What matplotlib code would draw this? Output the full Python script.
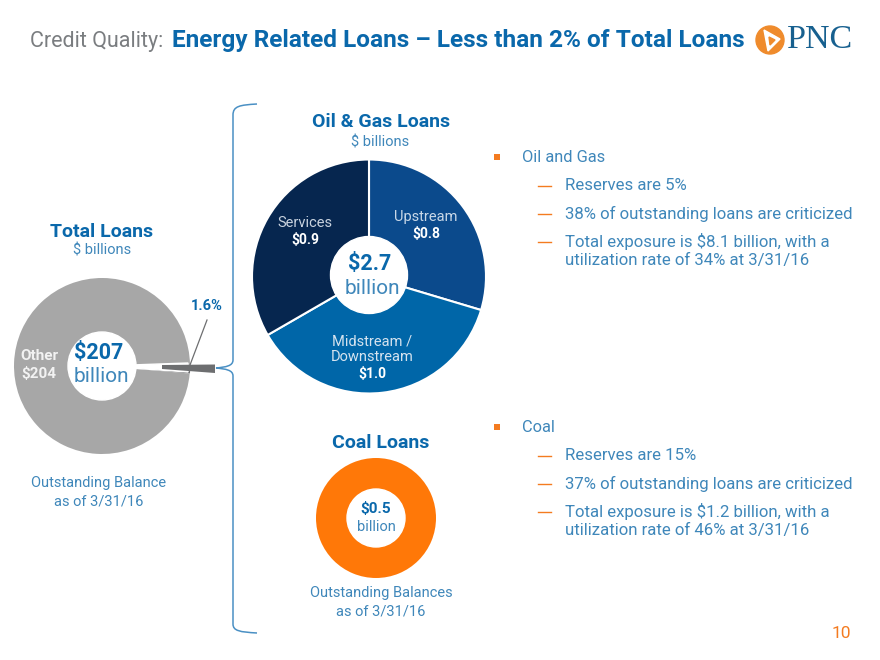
import matplotlib
matplotlib.use("Agg")
import matplotlib.pyplot as plt
from matplotlib.patches import Circle, Polygon, PathPatch
from matplotlib.path import Path

plt.rcParams['font.family'] = ['Roboto', 'DejaVu Sans']

# data
total_labels = ["Energy", "Other"]
total_values = [3.3, 203.7]
oil_labels = ["Upstream", "Midstream /\nDownstream", "Services"]
oil_values = [0.8, 1.0, 0.9]
coal_values = [0.5]
oil_bullets = ["Reserves are 5%", "38% of outstanding loans are criticized",
               "Total exposure is $8.1 billion, with a\nutilization rate of 34% at 3/31/16"]
coal_bullets = ["Reserves are 15%", "37% of outstanding loans are criticized",
                "Total exposure is $1.2 billion, with a\nutilization rate of 46% at 3/31/16"]

blue = "#0a68ab"
lblue = "#3f87ba"
orange = "#f47b20"

fig = plt.figure(figsize=(8.8, 6.6), dpi=100)
ax = fig.add_axes([0, 0, 1, 1])


def Y(y):
    # picture pixels count from the top
    return 660 - y


def txt(x, y, s, size=11, color=lblue, ha="center", bold=False, **kw):
    ax.text(x, Y(y), s, fontsize=size, color=color, ha=ha, va="center",
            fontweight="bold" if bold else "normal", **kw)


# total loans donut
ax.pie(total_values, colors=["#6d6e70", "#a7a7a7"], center=(102, Y(366)), radius=88,
       startangle=-4.9, explode=[0.26, 0], wedgeprops=dict(linewidth=0))
ax.add_patch(Circle((102, Y(366)), 34, color="white", zorder=3))
ax.add_patch(Polygon([(102, Y(366)), (188, Y(363)), (188, Y(372))], color="white", zorder=2.5))
ax.add_patch(Polygon([(162, Y(365)), (215, Y(364.5)), (215, Y(373)), (162, Y(369))],
                     color="#6d6e70", zorder=2.6, lw=0))
ax.plot([190, 207], [Y(365), Y(320)], color="#6d6e70", lw=0.9, zorder=4)

# oil and gas pie
ax.pie(oil_values, colors=["#0b4a8c", "#0066a8", "#06264f"], center=(369, Y(276.5)), radius=117,
       startangle=90, counterclock=False, wedgeprops=dict(edgecolor="white", linewidth=1.5))
ax.add_patch(Circle((369, Y(275)), 38.5, color="white", zorder=3))

# coal donut
ax.pie(coal_values, colors=["#ff7808"], center=(376, Y(518)), radius=60,
       wedgeprops=dict(linewidth=0))
ax.add_patch(Circle((376, Y(518)), 29, color="white", zorder=3))

ax.set_xlim(0, 880)
ax.set_ylim(0, 660)
ax.set_aspect("auto")
ax.axis("off")

# brace
brace = Path([(257, Y(104)), (240, Y(105)), (233, Y(106)), (233, Y(115)),
              (233, Y(360)), (233, Y(366)), (226, Y(367)), (216, Y(368)),
              (226, Y(369)), (233, Y(370)), (233, Y(376)),
              (233, Y(624)), (233, Y(631)), (240, Y(632)), (257, Y(633))],
             [Path.MOVETO, Path.CURVE4, Path.CURVE4, Path.CURVE4,
              Path.LINETO, Path.CURVE4, Path.CURVE4, Path.CURVE4,
              Path.CURVE4, Path.CURVE4, Path.CURVE4,
              Path.LINETO, Path.CURVE4, Path.CURVE4, Path.CURVE4])
ax.add_patch(PathPatch(brace, fc="none", ec="#4a90c4", lw=1.1))

# title
ax.text(30, Y(41), "Credit Quality:", fontsize=15.5, color="#7a7d80", va="center")
ax.text(172, Y(41), "Energy Related Loans \u2013 Less than 2% of Total Loans", fontsize=17.6,
        color="#0a68ab", va="center", fontweight="bold")

# logo
ax.add_patch(Circle((770, Y(40)), 14, color="#ef8b2c", zorder=3))
ax.add_patch(Polygon([(764, Y(30)), (780, Y(39)), (768, Y(51))], color="white", zorder=4))
ax.add_patch(Polygon([(769, Y(37)), (775, Y(40)), (770, Y(45))], color="#ef8b2c", zorder=5))
ax.text(787, Y(40), "PNC", fontsize=24.5, family="Liberation Serif", color="#17608f", va="center")

# left labels
txt(102, 232, "Total Loans", 14, blue, bold=True)
txt(102, 250, "$ billions", 10.5)
txt(207, 306, "1.6%", 10.5, blue, bold=True)
txt(39, 356, "Other", 11, "#f2f2f2", bold=True, zorder=5)
txt(39, 374, "$204", 11, "#f2f2f2", bold=True, zorder=5)
txt(99, 353, "$207", 15.5, blue, bold=True, zorder=5)
txt(101, 377, "billion", 15, lblue, zorder=5)
txt(99, 483, "Outstanding Balance", 10.5)
txt(99, 501, "as of 3/31/16", 10.5)

# oil labels
txt(381, 122, "Oil & Gas Loans", 14, blue, bold=True)
txt(380, 142, "$ billions", 10.5)
txt(305, 223, "Services", 10.5, "#c9d3df", zorder=5)
txt(305, 240, "$0.9", 10, "white", bold=True, zorder=5)
txt(426, 217, oil_labels[0], 10.5, "#c9d8e8", zorder=5)
txt(426, 234, "$0.8", 10, "white", bold=True, zorder=5)
txt(370, 264, "$2.7", 15.5, blue, bold=True, zorder=5)
txt(372, 288, "billion", 15, lblue, zorder=5)
txt(372, 341, "Midstream /", 10.5, "#d5e3ef", zorder=5)
txt(372, 357, "Downstream", 10.5, "#d5e3ef", zorder=5)
txt(372, 374, "$1.0", 10, "white", bold=True, zorder=5)

# coal labels
txt(381, 443, "Coal Loans", 14, blue, bold=True)
txt(376, 509, "$0.5", 11, blue, bold=True, zorder=5)
txt(376, 527, "billion", 10.5, lblue, zorder=5)
txt(381, 593, "Outstanding Balances", 10.5)
txt(381, 612, "as of 3/31/16", 10.5)

# bullets
for x, y, head, lines in [(522, 157, "Oil and Gas", oil_bullets), (522, 427, "Coal", coal_bullets)]:
    ax.add_patch(Polygon([(494, Y(y - 3)), (500, Y(y - 3)), (500, Y(y + 3)), (494, Y(y + 3))],
                         color=orange, lw=0))
    txt(x, y, head, 11.8, ha="left")
    yy = y + 28.5
    for line in lines:
        ax.plot([538, 551], [Y(yy), Y(yy)], color=orange, lw=1)
        parts = line.split("\n")
        for p in parts:
            txt(565, yy, p, 12.1, ha="left")
            yy += 19.5
        yy += 8.5 if len(parts) == 1 else 0

txt(841, 634, "10", 12.5, orange)

fig.savefig("out.png", dpi=100)
